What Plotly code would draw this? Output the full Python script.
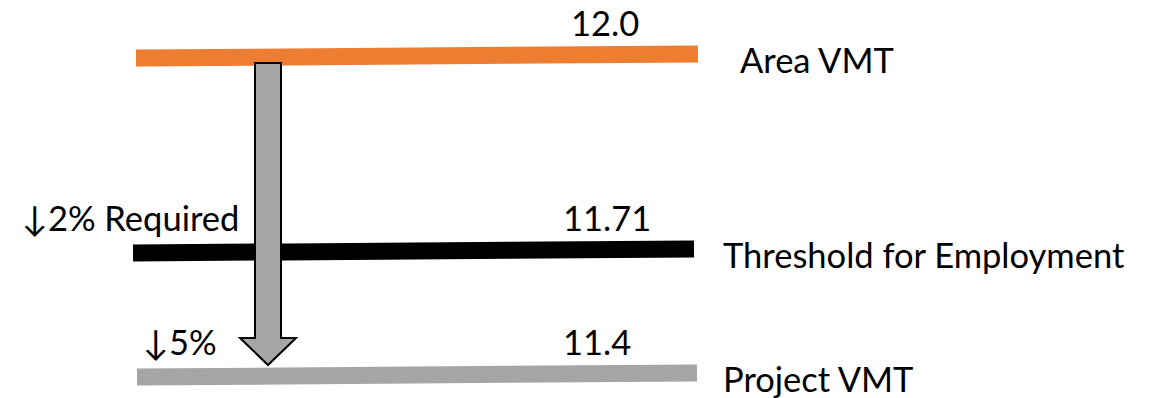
import plotly.graph_objects as go

# VMT levels shown as horizontal bars
levels = ["Area VMT", "Threshold for Employment", "Project VMT"]
vmt_values = [12.0, 11.71, 11.4]
reduction_labels = ["", "↓2% Required", "↓5%"]

# layout: vertical slot for each level on a 0..398 canvas axis (top = 0)
level_rows = [56, 251, 375]
bar_colors = ["#ED7D31", "#000000", "#A5A5A5"]
bar_left = [136, 133, 137]
bar_right = [698, 694, 697]
tilt = 2.0
value_x = [569, 561, 561]
name_x = [738, 721, 721]
reduction_x = [None, 20, 141]

FONT = "Lato"
FSIZE = 34.5

fig = go.Figure()

for name, val, row, col, x0, x1 in zip(levels, vmt_values, level_rows,
                                       bar_colors, bar_left, bar_right):
    fig.add_trace(go.Scatter(
        x=[x0, x1], y=[row + tilt, row - tilt], mode="lines",
        line=dict(color=col, width=17), name=name, hoverinfo="skip",
        showlegend=False))

# downward arrow from Area VMT to Project VMT
shaft_l, shaft_r = 255, 281
head_l, head_r = 240, 296
top = level_rows[0] + 7
head_top = level_rows[2] - 37
tip = level_rows[2] - 10
tip_x = (head_l + head_r) / 2
fig.add_shape(
    type="path", xref="x", yref="y",
    path=(f"M {shaft_l} {top} L {shaft_r} {top} L {shaft_r} {head_top} "
          f"L {head_r} {head_top} L {tip_x} {tip} L {head_l} {head_top} "
          f"L {shaft_l} {head_top} Z"),
    fillcolor="#A6A6A6", line=dict(color="#000000", width=2), layer="above")

for name, val, row, red, vx, nx, rx in zip(levels, vmt_values, level_rows,
                                           reduction_labels, value_x, name_x,
                                           reduction_x):
    fig.add_annotation(x=vx, y=row - 34, text=str(val), showarrow=False,
                       xanchor="left", yanchor="middle",
                       font=dict(family=FONT, size=FSIZE, color="#000"))
    fig.add_annotation(x=nx, y=row + 3, text=name, showarrow=False,
                       xanchor="left", yanchor="middle",
                       font=dict(family=FONT, size=FSIZE, color="#000"))
    if red:
        fig.add_annotation(x=rx, y=row - 34, text=red, showarrow=False,
                           xanchor="left", yanchor="middle",
                           font=dict(family=FONT, size=FSIZE, color="#000"))

fig.update_layout(
    width=1160, height=398, margin=dict(l=0, r=0, t=0, b=0),
    paper_bgcolor="white", plot_bgcolor="white",
    xaxis=dict(range=[0, 1160], visible=False, fixedrange=True),
    yaxis=dict(range=[398, 0], visible=False, fixedrange=True),
)

fig.write_html("out.html")
